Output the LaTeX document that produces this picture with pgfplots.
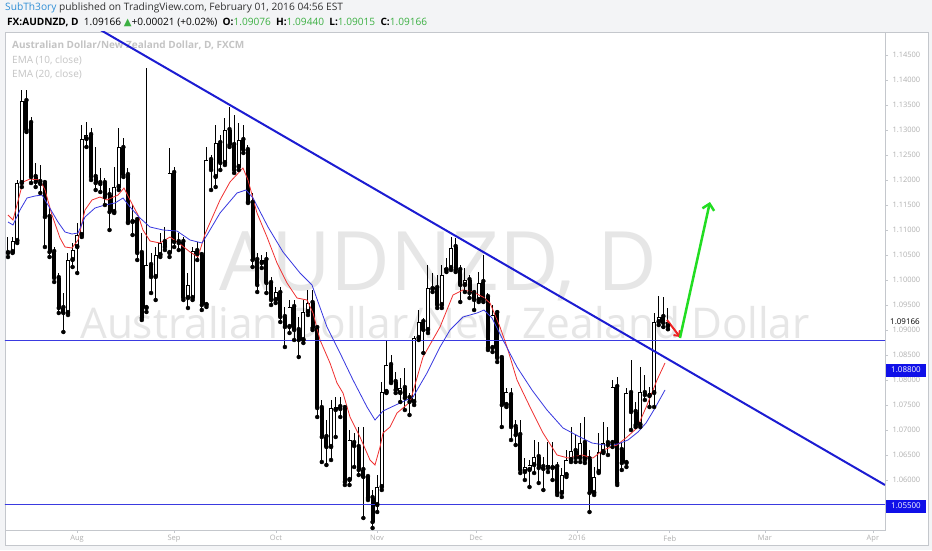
\documentclass[border=0pt]{standalone}
\usepackage{fontspec}
\setmainfont{Open Sans}
\newfontfamily\symfont{DejaVu Sans}
\usepackage{pgfplots}
\pgfplotsset{compat=1.18}
\usepackage{pgfplotstable}
\usetikzlibrary{arrows.meta}

\definecolor{framegray}{HTML}{C4C7CC}
\definecolor{labelgray}{HTML}{B0B0B0}
\definecolor{legendgray}{HTML}{C4C4C4}
\definecolor{markgray}{HTML}{E6E6E6}
\definecolor{pagebg}{HTML}{F3F4F6}
\definecolor{textdark}{HTML}{303030}
\definecolor{trendblue}{HTML}{1C1CD2}
\definecolor{levelblue}{HTML}{3A3AE0}
\definecolor{boxblue}{HTML}{1010E8}
\definecolor{emared}{HTML}{F03030}
\definecolor{emablue}{HTML}{3838E0}
\definecolor{upgreen}{HTML}{3CB043}
\definecolor{arrowgreen}{HTML}{22DD22}
\definecolor{arrowred}{HTML}{EE2222}
\definecolor{authorblue}{HTML}{2F8ED6}

% daily AUDNZD candles, k = bar index (0 = first bar on the left)
\pgfplotstableread{
k o h l c
0 1.1054 1.1086 1.1046 1.1056
1 1.1056 1.1086 1.1054 1.1078
2 1.1078 1.1200 1.1074 1.1194
3 1.1194 1.1380 1.1186 1.1358
4 1.1358 1.1380 1.1296 1.1300
5 1.1314 1.1326 1.1194 1.1206
6 1.1206 1.1234 1.1186 1.1196
7 1.1196 1.1230 1.1174 1.1192
8 1.1194 1.1200 1.1066 1.1126
9 1.1126 1.1144 1.1046 1.1056
10 1.1056 1.1066 1.0996 1.1004
11 1.1004 1.1014 1.0934 1.0944
12 1.0944 1.0974 1.0896 1.0934
13 1.0934 1.1054 1.0930 1.1040
14 1.1040 1.1074 1.1026 1.1060
15 1.1066 1.1114 1.1014 1.1090
16 1.1090 1.1310 1.1086 1.1282
17 1.1282 1.1316 1.1266 1.1290
18 1.1290 1.1304 1.1200 1.1206
19 1.1206 1.1266 1.1180 1.1194
20 1.1194 1.1224 1.1176 1.1192
21 1.1194 1.1204 1.1150 1.1166
22 1.1170 1.1184 1.1100 1.1136
23 1.1136 1.1226 1.1134 1.1186
24 1.1186 1.1304 1.1180 1.1266
25 1.1264 1.1284 1.1206 1.1210
26 1.1210 1.1224 1.1114 1.1116
27 1.1116 1.1150 1.1090 1.1120
28 1.1120 1.1126 1.1040 1.1054
29 1.1054 1.1094 1.0920 1.0924
30 1.0944 1.1424 1.0936 1.1030
31 1.1030 1.1054 1.0974 1.1006
32 1.1006 1.1066 1.0960 1.1050
33 1.1050 1.1094 1.1046 1.1074
34 1.1076 1.1106 1.1060 1.1066
35 1.1054 1.1264 1.1046 1.1214
36 1.1214 1.1226 1.1066 1.1076
37 1.1076 1.1094 1.1060 1.1074
38 1.1076 1.1086 1.0960 1.0964
39 1.0964 1.1014 1.0944 1.0990
40 1.0964 1.1066 1.0960 1.1058
41 1.1058 1.1076 1.1040 1.1052
42 1.1050 1.1056 1.0940 1.0950
43 1.0950 1.1266 1.0946 1.1240
44 1.1240 1.1250 1.1180 1.1220
45 1.1206 1.1310 1.1186 1.1274
46 1.1274 1.1290 1.1220 1.1234
47 1.1234 1.1324 1.1230 1.1300
48 1.1300 1.1346 1.1266 1.1270
49 1.1270 1.1330 1.1214 1.1220
50 1.1226 1.1314 1.1220 1.1280
51 1.1280 1.1310 1.1254 1.1260
52 1.1260 1.1270 1.1154 1.1156
53 1.1154 1.1174 1.1026 1.1040
54 1.1040 1.1054 1.0976 1.0990
55 1.1034 1.1050 1.1024 1.1040
56 1.1040 1.1056 1.0974 1.0994
57 1.0994 1.1006 1.0950 1.0960
58 1.0960 1.0986 1.0954 1.0976
59 1.0974 1.0986 1.0916 1.0926
60 1.0926 1.0946 1.0866 1.0906
61 1.0906 1.0960 1.0894 1.0946
62 1.0946 1.0960 1.0880 1.0900
63 1.0900 1.0926 1.0846 1.0880
64 1.0880 1.0960 1.0874 1.0936
65 1.0936 1.0980 1.0930 1.0954
66 1.0954 1.0980 1.0900 1.0904
67 1.0904 1.0906 1.0726 1.0744
68 1.0744 1.0760 1.0636 1.0686
69 1.0686 1.0720 1.0630 1.0666
70 1.0666 1.0760 1.0640 1.0744
71 1.0740 1.0766 1.0686 1.0746
72 1.0746 1.0766 1.0726 1.0742
73 1.0744 1.0750 1.0590 1.0596
74 1.0600 1.0700 1.0590 1.0680
75 1.0674 1.0694 1.0626 1.0668
76 1.0666 1.0706 1.0610 1.0620
77 1.0620 1.0706 1.0524 1.0606
78 1.0606 1.0610 1.0560 1.0564
79 1.0564 1.0580 1.0504 1.0516
80 1.0550 1.0610 1.0536 1.0586
81 1.0586 1.0796 1.0580 1.0776
82 1.0776 1.0880 1.0774 1.0830
83 1.0830 1.0850 1.0794 1.0796
84 1.0796 1.0816 1.0774 1.0780
85 1.0774 1.0804 1.0756 1.0784
86 1.0784 1.0824 1.0740 1.0764
87 1.0764 1.0774 1.0730 1.0756
88 1.0756 1.0888 1.0750 1.0884
89 1.0884 1.0940 1.0880 1.0916
90 1.0916 1.0924 1.0854 1.0900
91 1.0900 1.1030 1.0894 1.0984
92 1.0982 1.1014 1.0976 1.0986
93 1.0984 1.1010 1.0944 1.0950
94 1.0950 1.1030 1.0944 1.1010
95 1.1020 1.1044 1.1016 1.1024
96 1.1024 1.1086 1.1020 1.1064
97 1.1066 1.1084 1.1016 1.1020
98 1.1020 1.1030 1.0956 1.0990
99 1.0990 1.1024 1.0976 1.1000
100 1.1000 1.1010 1.0964 1.0974
101 1.0974 1.0980 1.0940 1.0960
102 1.0960 1.1016 1.0956 1.0994
103 1.0996 1.1050 1.0956 1.0960
104 1.0966 1.0974 1.0860 1.0864
105 1.0864 1.0950 1.0856 1.0930
106 1.0934 1.0940 1.0836 1.0844
107 1.0844 1.0846 1.0706 1.0750
108 1.0750 1.0784 1.0746 1.0776
109 1.0770 1.0784 1.0680 1.0706
110 1.0706 1.0720 1.0670 1.0690
111 1.0690 1.0720 1.0614 1.0620
112 1.0616 1.0644 1.0600 1.0626
113 1.0620 1.0640 1.0586 1.0630
114 1.0630 1.0680 1.0614 1.0646
115 1.0646 1.0676 1.0594 1.0624
116 1.0626 1.0646 1.0580 1.0622
117 1.0624 1.0676 1.0616 1.0630
118 1.0624 1.0676 1.0600 1.0628
119 1.0626 1.0636 1.0570 1.0574
120 1.0574 1.0624 1.0566 1.0610
121 1.0610 1.0660 1.0606 1.0640
122 1.0640 1.0706 1.0636 1.0658
123 1.0658 1.0690 1.0636 1.0644
124 1.0644 1.0714 1.0636 1.0674
125 1.0674 1.0726 1.0634 1.0640
126 1.0642 1.0660 1.0536 1.0574
127 1.0574 1.0626 1.0570 1.0606
128 1.0616 1.0694 1.0614 1.0656
129 1.0656 1.0716 1.0654 1.0674
130 1.0674 1.0706 1.0650 1.0670
131 1.0674 1.0800 1.0666 1.0786
132 1.0786 1.0806 1.0590 1.0594
133 1.0660 1.0674 1.0620 1.0634
134 1.0634 1.0784 1.0626 1.0774
135 1.0774 1.0840 1.0700 1.0736
136 1.0736 1.0756 1.0706 1.0710
137 1.0710 1.0826 1.0706 1.0776
138 1.0774 1.0810 1.0760 1.0770
139 1.0768 1.0786 1.0746 1.0774
140 1.0774 1.0934 1.0746 1.0916
141 1.0916 1.0968 1.0910 1.0926
142 1.0926 1.0966 1.0906 1.0914
143 1.09076 1.0944 1.09015 1.09166
}\candles

\begin{document}
\begin{tikzpicture}
\fill[pagebg] (0pt,0pt) rectangle (932pt,550pt);
\fill[white] (5pt,5pt) rectangle (928pt,518pt);
\draw[framegray, line width=0.8pt] (5pt,5pt) rectangle (928pt,518pt);

% watermark
\node[anchor=base, inner sep=0pt, text=markgray, font=\fontsize{82}{82}\selectfont] at (438pt,260pt) {AUDNZD, D};
\node[anchor=base, inner sep=0pt, text=markgray, font=\fontsize{42.3}{42}\selectfont] at (445pt,212pt) {Australian Dollar/New Zealand Dollar};

% header
\node[anchor=base west, inner sep=0pt, font=\fontsize{10.2}{12}\selectfont] at (5pt,539pt)
  {\textcolor{authorblue}{SubTh3ory} \textcolor{textdark}{published on TradingView.com, February 01, 2016 04:56 EST}};
\node[anchor=base west, inner sep=0pt, font=\fontsize{10.1}{12}\selectfont, text=black] at (7pt,524pt)
  {\textbf{FX:AUDNZD, D}\ \ 1.09166 {\symfont\textcolor{upgreen}{▲}}+0.00021 (+0.02\%)\ \ \textbf{O:}\textcolor{upgreen}{1.09076}\ \ \textbf{H:}\textcolor{upgreen}{1.09440}\ \ \textbf{L:}\textcolor{upgreen}{1.09015}\ \ \textbf{C:}\textcolor{upgreen}{1.09166}};

% legend of the panel
\node[anchor=base west, inner sep=0pt, text=legendgray, font=\bfseries\fontsize{10}{12}\selectfont] at (12pt,501pt) {Australian Dollar/New Zealand Dollar, D, FXCM};
\node[anchor=base west, inner sep=0pt, text=legendgray, font=\fontsize{10}{12}\selectfont] at (12pt,486pt) {EMA (10, close)};
\node[anchor=base west, inner sep=0pt, text=legendgray, font=\fontsize{10}{12}\selectfont] at (12pt,472pt) {EMA (20, close)};

\begin{axis}[
  at={(5pt,20pt)}, anchor=south west, scale only axis,
  width=880pt, height=498pt,
  xmin=-0.65, xmax=190.03, ymin=1.05, ymax=1.1496,
  axis line style={framegray, line width=0.8pt},
  tick align=outside, major tick length=3pt,
  tick style={framegray, line width=0.7pt},
  xtick pos=bottom, ytick pos=right, yticklabel pos=right,
  scaled y ticks=false,
  ytick={1.055,1.06,1.065,1.07,1.075,1.08,1.085,1.09,1.095,1.1,1.105,1.11,1.115,1.12,1.125,1.13,1.135,1.14,1.145},
  yticklabel style={/pgf/number format/fixed, /pgf/number format/fixed zerofill,
    /pgf/number format/precision=5, /pgf/number format/assume math mode=true,
    text=labelgray, font=\fontsize{7.5}{9}\selectfont, xshift=1pt},
  xtick={14.95,35.97,58.07,79.96,101.4,123.3,143.4,164.0,187.4},
  xticklabels={Aug,Sep,Oct,Nov,Dec,2016,Feb,Mar,Apr},
  xticklabel style={text=labelgray, font=\fontsize{7.5}{9}\selectfont, yshift=1pt},
  clip=true,
]
% wicks
\addplot[only marks, mark=none, error bars/.cd, y dir=plus, y explicit, error mark=none,
  error bar style={line width=1pt, black}]
  table[x=k, y=l, y error plus expr={\thisrow{h}-\thisrow{l}}] {\candles};
% bodies
\addplot[only marks, mark=none, error bars/.cd, y dir=plus, y explicit, error mark=none,
  error bar style={line width=4pt, black}]
  table[x=k, y expr={min(\thisrow{o},\thisrow{c})}, y error plus expr={max(abs(\thisrow{c}-\thisrow{o}),0.00014)}] {\candles};
% hollow inside of rising bodies
\addplot[only marks, mark=none, error bars/.cd, y dir=plus, y explicit, error mark=none,
  error bar style={line width=2.2pt, white}]
  table[x=k, y expr={\thisrow{o}+0.00018}, y error plus expr={max(\thisrow{c}-\thisrow{o}-0.00036,0)}] {\candles};

% EMA 10
\addplot[emared, line width=0.8pt] coordinates {
(0,1.1130) (1.08,1.1120) (3.25,1.1196) (4.77,1.1202) (6.93,1.1200) (8.02,1.1180) (9.53,1.1130)
(11.27,1.1084) (12.35,1.1066) (13.87,1.1064) (15.17,1.1080) (16.68,1.1140) (18.2,1.1160)
(19.93,1.1166) (21.45,1.1160) (23.84,1.1170) (25.14,1.1184) (26.44,1.1160) (28.17,1.1130)
(29.25,1.1100) (30.77,1.1078) (32.94,1.1074) (35.1,1.1086) (37.27,1.1072) (39.44,1.1056)
(41.17,1.1046) (42.69,1.1092) (45.94,1.1160) (48.1,1.1196) (50.92,1.1224) (52.0,1.1200)
(53.95,1.1134) (56.12,1.1086) (58.29,1.1034) (60.45,1.0994) (62.62,1.0964) (64.79,1.0960)
(66.09,1.0934) (67.61,1.0880) (69.77,1.0834) (71.29,1.0794) (72.59,1.0774) (74.11,1.0726)
(76.27,1.0686) (78.44,1.0640) (79.52,1.0630) (80.61,1.0666) (81.26,1.0694) (82.77,1.0706)
(84.29,1.0734) (87.11,1.0756) (89.92,1.0846) (93.61,1.0906) (96.42,1.0970) (98.59,1.0980)
(100.76,1.0976) (102.93,1.0966) (104.44,1.0954) (106.61,1.0906) (108.13,1.0866) (110.29,1.0800)
(113.11,1.0746) (115.93,1.0694) (118.96,1.0650) (121.34,1.0644) (124.38,1.0650) (126.76,1.0644)
(128.93,1.0660) (131.96,1.0670) (134.13,1.0686) (136.3,1.0704) (138.47,1.0750) (140.63,1.0800)
(142.36,1.0834)};
% EMA 20
\addplot[emablue, line width=0.8pt] coordinates {
(0,1.1116) (1.08,1.1110) (2.6,1.1140) (4.12,1.1164) (5.85,1.1168) (7.37,1.1170) (8.67,1.1150)
(10.83,1.1116) (12.35,1.1096) (13.87,1.1092) (15.17,1.1094) (16.68,1.1126) (18.85,1.1144)
(21.02,1.1150) (23.19,1.1154) (24.92,1.1164) (26.44,1.1146) (28.6,1.1124) (30.77,1.1106)
(33.59,1.1100) (36.62,1.1098) (39.44,1.1080) (42.04,1.1074) (43.12,1.1090) (45.94,1.1134)
(49.62,1.1174) (51.57,1.1180) (53.09,1.1164) (56.34,1.1106) (59.59,1.1056) (63.27,1.1014)
(65.87,1.0990) (69.12,1.0906) (71.94,1.0854) (74.76,1.0800) (77.79,1.0746) (79.52,1.0720)
(81.26,1.0738) (84.94,1.0754) (87.76,1.0766) (90.79,1.0814) (93.61,1.0866) (95.78,1.0900)
(98.59,1.0926) (101.63,1.0934) (103.14,1.0940) (104.87,1.0924) (107.26,1.0880) (110.29,1.0826)
(113.54,1.0780) (116.79,1.0740) (120.26,1.0704) (123.51,1.0688) (126.54,1.0674) (129.36,1.0670)
(132.18,1.0672) (134.34,1.0680) (136.51,1.0696) (138.25,1.0714) (140.2,1.0744) (142.36,1.0780)};

% support levels and trend line
\addplot[color=levelblue, line width=1pt] coordinates {(-1,1.088) (191,1.088)};
\addplot[color=levelblue, line width=1pt] coordinates {(-1,1.0551) (191,1.0551)};
\addplot[trendblue, line width=2pt] coordinates {(19.5,1.1503) (190.03,1.0590)};

% arrows
\addplot[arrowred, line width=2pt, -{Straight Barb[length=4pt,width=8pt]}] coordinates {(142.8,1.0920) (145.6,1.0886)};
\addplot[arrowgreen, line width=2.5pt, -{Straight Barb[length=6pt,width=12pt]}] coordinates {(145.6,1.0884) (152.1,1.1156)};
\end{axis}

% price labels on the scale
\node[anchor=west, fill=white, inner sep=1pt, text=black, font=\fontsize{8}{9}\selectfont] at (889pt,228pt) {1.09166};
\fill[boxblue] (886pt,173.5pt) rectangle (926pt,186.5pt);
\node[text=white, inner sep=0pt, font=\fontsize{8}{9}\selectfont] at (906pt,180pt) {1.08800};
\fill[boxblue] (886pt,37.5pt) rectangle (926pt,50.5pt);
\node[text=white, inner sep=0pt, font=\fontsize{8}{9}\selectfont] at (906pt,44pt) {1.05500};

\pgfresetboundingbox
\path[use as bounding box] (0pt,0pt) rectangle (932pt,550pt);
\end{tikzpicture}
\end{document}
